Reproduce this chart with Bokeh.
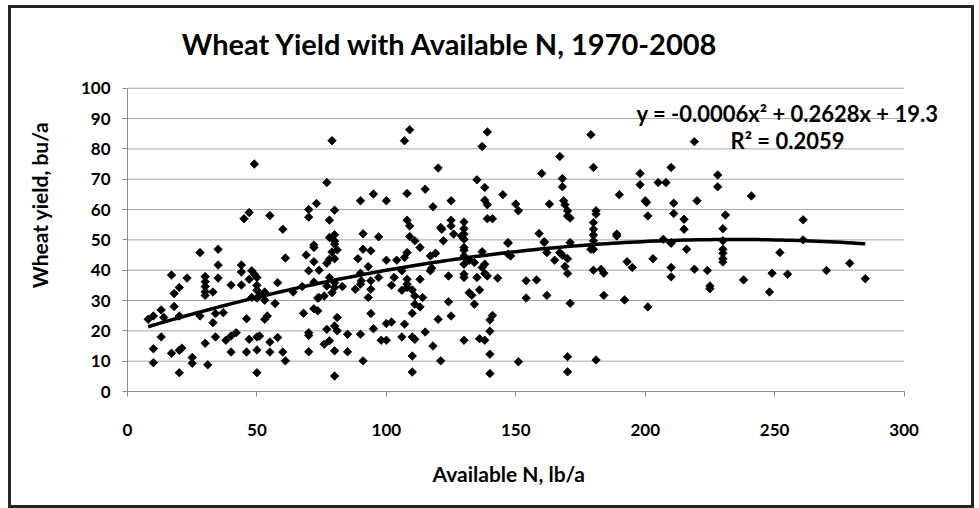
import numpy as np
from bokeh.plotting import figure
from bokeh.models import ColumnDataSource, FixedTicker, Label, Title
from bokeh.embed import file_html
from bokeh.resources import INLINE

# ---- data ----
pts = [
(49,75),(45,57),(47,59),(55,58),(60,53.5),(70,60),(70,57.5),(73,62),(72,48.3),
(28,45.8),(35,46.9),(35,41.7),(35,37.4),(17,38.4),(23,37.4),(30,37.9),(30,36.2),(30,34.6),(30,32.9),(30,31.7),(33,32.8),(20,34.3),(18,32.3),(18,28),(13,26.9),(10,24.9),(8,23.8),(14,24.4),(20,24.9),(28,24.9),(34,25.7),(37,26),(33,22.7),(13,18),(10,14.1),(10,9.5),(17,12.6),(20,13.6),(21,14.3),(20,6.2),(25,11.2),(25,9.3),(31,8.8),(30,15.9),(34,18),(38,16.9),(40,18.3),(42,19.4),(40,13),(46,13),(47,17.2),(50,18),(51,18.3),(50,13.7),(50,6.2),(55,16.3),(55,13),(58,17.8),(60,13),(61,10.1),(70,19.4),(70,18.5),(70,13.1),(46,24),(53,23.8),(54,24.9),(57,29),(53,30.1),(53,32.8),(51,31.7),(50,30.8),(48,31),(50,33.4),(50,35),(50,37.6),(49,38.7),(48,39.8),(47,37),(44,41.7),(44,39.4),(44,35.1),(40,35.1),(58,35.9),(61,44),(64,32.8),(68,25.8),(67.5,34.6),(69,45),(72,47.5),(72,42.8),(70,39.8),(72,36.1),(72,27.3),(73.5,30.8),(73.5,26.6),
(79,82.7),(77,68.9),(80,59.8),(78,56.5),(78,50.8),(80,51.7),(80,49.6),(90,62.9),(95,65.1),(100,62.9),(91,52),(97,51),(107,82.7),(109,86.3),(108,65.3),(108,56.5),(109,54.6),(109,51.1),(111,49.7),(115,66.7),(120,73.7),(118,60.9),(121,54.1),(121.4,53.5),(125,62.9),(125,56.5),(125,54.6),(122,49.7),(126,51.9),(130,55.9),(130,53.7),(130,51.9),(130,50.2),(129,51.3),(139,85.6),(137,80.8),(135,69.8),(138,67.3),(138,63.1),(139,61.6),(139,57),(141,57),(145,64.9),(147,49.1),
(74,40),(80,48.6),(81,46.7),(79,46),(80,43.8),(78,43.6),(77,42.3),(78,37.6),(76,31.5),(74,31),(77,34.8),(79,32.6),(80,34.3),(80,35.9),(83,34.6),(77,20.5),(80,21.6),(81,24.4),(81,20),(76,15.6),(78,16.7),(80,13.4),(80,5.1),(85,18.9),(85,13.1),(90,18.9),(91,10.1),(89,43.8),(91,46.9),(94,46.4),(93,41.2),(90,39),(88,33.7),(90,35.4),(90.3,36.5),(94,36.5),(94,33.7),(93,31),(97,37.6),(94,25.7),(95,20.7),(98,16.9),(100,16.9),(100,22.4),(102,22.9),(100,43.3),(104,43.3),(103,37.6),(102,35),(106,39.8),(107,44.2),(108,45.8),(106,33.4),(108,37),(108,35.4),(108,34.3),(110,33.5),(111,31.5),(111,28.8),(110,25.8),(113,27.9),(114,31),(113,37),(113,47.5),(107,22.2),(106,18),(110,18),(111,17.2),(110,11.7),(110,6.4),(115,19.6),(118,15),(120,23.8),(121,10.1),(124,29.6),(125,24.9),(117,44.7),(119,45.6),(117,39.8),(117.5,40.7),(124,38.1),(130,47.5),(130,46.6),(130,44.7),(130,42),(132,43.3),(130,38.7),(130,37.6),(132,32.6),(133,31.7),(134,28.8),(134,42.5),(137,46.1),(138,42),(137,40.9),(135,37.6),(138,38.9),(139,38.1),(136,33.5),(143,37.4),(141,25.1),(140,23.6),(140,19.9),(130,16.9),(136,17.4),(138,16.9),(140,12.3),(140,5.9),(147,48.9),(147,45.3),
(150,61.8),(151,59.6),(159,52.1),(161,49.4),(160,71.9),(163,61.8),(167,77.5),(168,70.2),(168,67.5),(168.5,62.9),(169,61.6),(170,59.6),(170,57.9),(171,57.2),(171,49.1),(179,84.7),(180,73.9),(181,59.6),(181,58.5),(180,55.7),(180,53.5),(180,51.6),(180,49.7),(189,51.9),(190,64.9),(198,71.9),(198,68.2),(200,62.9),(200.5,62.3),(201,57.9),(205,68.9),(208,68.9),(210,73.9),(211,62.1),(211,58.7),(215,56.8),(215,53.5),(219,82.4),(220,62.9),(207,50.2),(210,49.1),
(148,44.7),(154,36.5),(158,36.8),(154,30.8),(162,31.7),(161,49.1),(162,45.8),(165,43.3),(167,45.8),(168,44.9),(170,43.8),(169,41.2),(170,38.9),(171,29.1),(179,46.9),(180,46.9),(180,40),(183,40.3),(184,39),(184,31.7),(193,42.8),(195,40.9),(192,30.2),(201,27.9),(203,43.8),(210,48.9),(210,40.9),(210,37.8),(216,46.9),(219,40.3),(151,9.8),(170,11.5),(170,6.5),(181,10.4),(189,51.3),
(228,71.4),(228,67.5),(241,64.5),(231,58.2),(230,53.7),(230,49.7),(261,56.6),(261,50),
(224,39.9),(225,34.8),(225,33.9),(230,46.9),(230,45.6),(230,43.8),(230,42.7),(238,36.8),(248,32.8),(249,39),(252,45.8),(255,38.7),(270,39.9),(279,42.3),(285,37.2),
]
available_n = [p[0] for p in pts]
wheat_yield = [p[1] for p in pts]

# trendline coefficients (quadratic, as in the displayed equation)
trend_coef = [-0.00056, 0.2628, 19.3]
trend_range = [8, 285]

x_ticks = [0, 50, 100, 150, 200, 250, 300]
y_ticks = [0, 10, 20, 30, 40, 50, 60, 70, 80, 90, 100]
x_axis_span = [0, 300]
y_axis_span = [0, 100]

title_text = "Wheat Yield with Available N, 1970-2008"
eq_text = "y = -0.0006x\u00b2 + 0.2628x + 19.3"
r2_text = "R\u00b2 = 0.2059"
x_title = "Available N, lb/a"
y_title = "Wheat yield, bu/a"

FONT = "Lato"
GRAY = "#8c8c8c"

# the frame is extended above and to the right so the title / equation texts
# (which sit outside the axes area in the reference) are not clipped
p = figure(frame_width=818, frame_height=373, x_range=(0, 316), y_range=(0, 123),
           output_backend="svg", toolbar_location=None,
           min_border_left=116, min_border_right=26, min_border_top=10, min_border_bottom=113)
p.styles = {"border": "3px solid #262626", "margin-left": "8px", "margin-top": "5px"}
p.outline_line_color = None
p.background_fill_color = "white"
p.border_fill_color = "white"

p.xgrid.grid_line_color = None
p.ygrid.grid_line_color = None
p.segment(x0=x_axis_span[0], x1=x_axis_span[1], y0=y_ticks[1:], y1=y_ticks[1:],
          line_color="#a6a6a6", line_width=1)

for ax in (p.xaxis[0], p.yaxis[0]):
    ax.axis_line_color = GRAY
    ax.major_tick_line_color = GRAY
    ax.minor_tick_line_color = None
    ax.major_tick_out = 5
    ax.major_tick_in = 0
    ax.major_label_text_font = FONT
    ax.major_label_text_font_style = "bold"
    ax.major_label_text_font_size = "17px"
    ax.major_label_text_color = "black"
    ax.axis_label_text_font = FONT
    ax.axis_label_text_font_style = "bold"
    ax.axis_label_text_font_size = "21px"
    ax.axis_label_text_color = "black"

p.xaxis.bounds = tuple(x_axis_span)
p.yaxis.bounds = tuple(y_axis_span)
p.xaxis.ticker = FixedTicker(ticks=x_ticks)
p.yaxis.ticker = FixedTicker(ticks=y_ticks)
p.yaxis.axis_label = y_title
p.xaxis.major_label_standoff = 27
p.yaxis.major_label_standoff = 12
p.yaxis.axis_label_standoff = 26

# x-axis title: centred under the 0-300 axis (not the extended frame)
p.add_layout(Title(text=x_title, align="left", offset=292, standoff=14, padding=13,
                   text_font=FONT, text_font_size="21px", text_font_style="bold",
                   text_color="black"), "below")

src = ColumnDataSource(data=dict(x=available_n, y=wheat_yield))
p.scatter("x", "y", source=src, marker="square", angle=np.pi / 4, size=6,
          fill_color="black", line_color="black", line_width=0.8)

tx = np.linspace(trend_range[0], trend_range[1], 120)
ty = np.polyval(trend_coef, tx)
p.line(tx, ty, line_color="black", line_width=3.5)

# label positions are measured from the frame's bottom-left corner (pixels)
p.add_layout(Label(x=323, y=348, x_units="screen", y_units="screen", text=title_text,
                   text_font=FONT, text_font_size="29px", text_font_style="bold",
                   text_align="center", text_baseline="middle", text_color="black"))
p.add_layout(Label(x=660, y=278, x_units="screen", y_units="screen", text=eq_text,
                   text_font=FONT, text_font_size="22px", text_font_style="bold",
                   text_align="center", text_baseline="middle", text_color="black"))
p.add_layout(Label(x=660, y=251, x_units="screen", y_units="screen", text=r2_text,
                   text_font=FONT, text_font_size="22px", text_font_style="bold",
                   text_align="center", text_baseline="middle", text_color="black"))

open("out.html", "w").write(file_html(p, INLINE))
